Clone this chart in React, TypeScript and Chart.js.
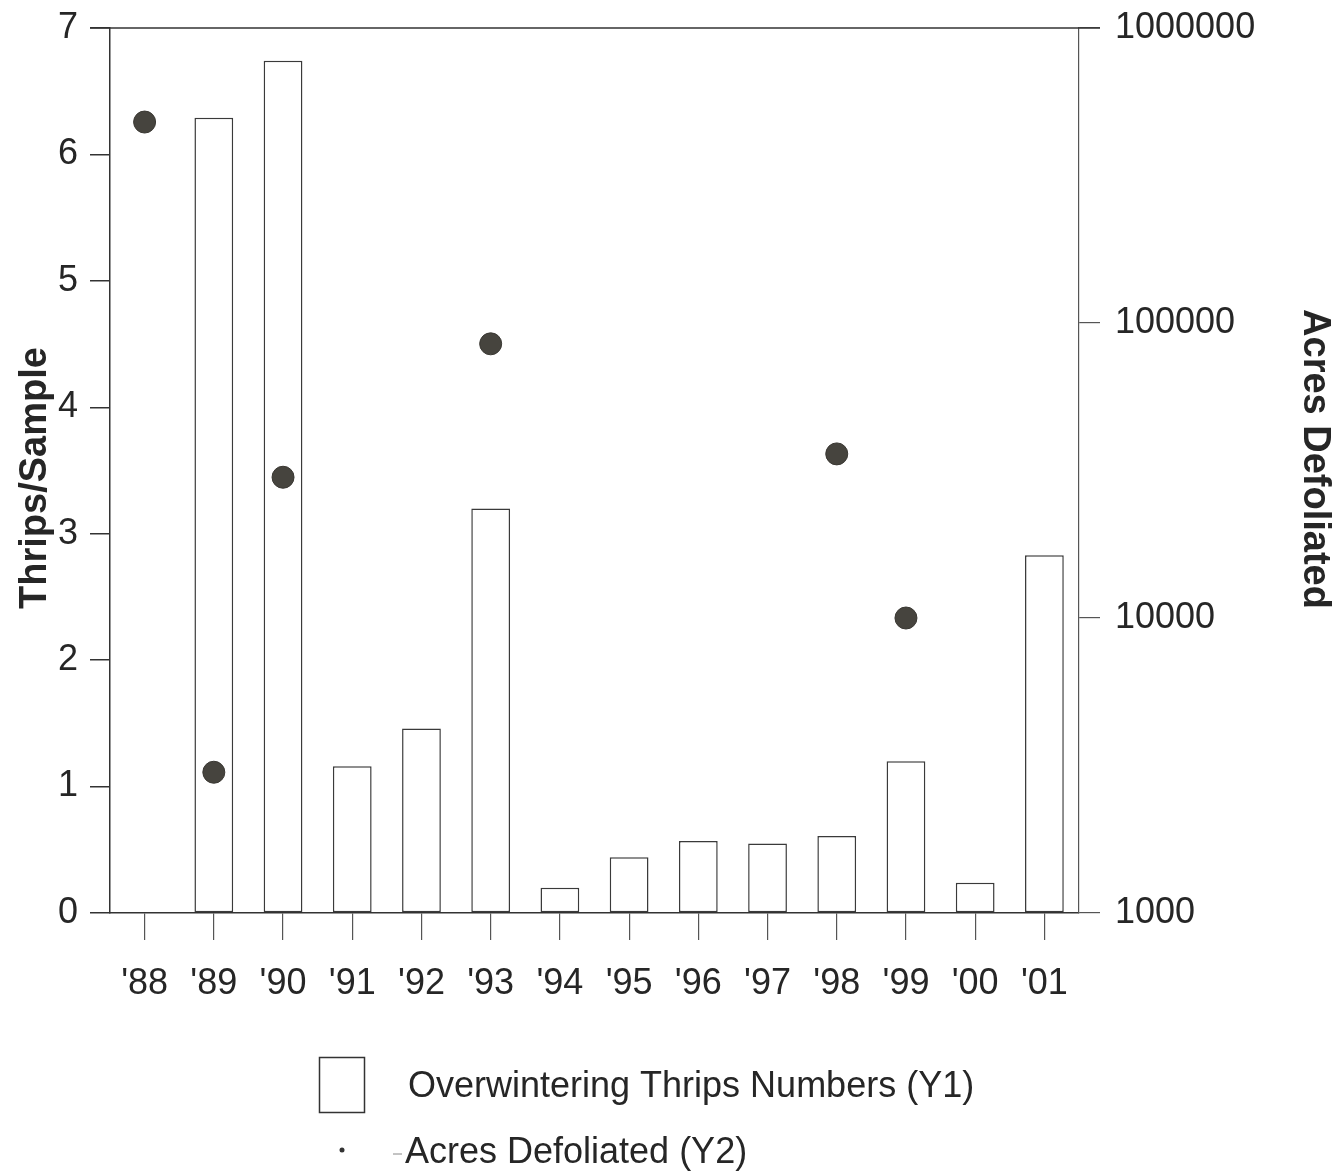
import React, { useEffect, useRef } from "react";
import { Chart, registerables } from "chart.js";

Chart.register(...registerables);

const YEARS = ["'88", "'89", "'90", "'91", "'92", "'93", "'94", "'95", "'96", "'97", "'98", "'99", "'00", "'01"];
const THRIPS_PER_SAMPLE = [null, 6.29, 6.74, 1.16, 1.46, 3.2, 0.2, 0.44, 0.57, 0.55, 0.61, 1.2, 0.24, 2.83];
const ACRES_DEFOLIATED = [480000, 3000, 30000, null, null, 85000, null, null, null, null, 36000, 10000, null, null];
const Y2_TICKS = [1000, 10000, 100000, 1000000];
const Y1_TITLE = "Thrips/Sample";
const Y2_TITLE = "Acres Defoliated";
const LEGEND_BARS = "Overwintering Thrips Numbers (Y1)";
const LEGEND_POINTS = "Acres Defoliated (Y2)";

const FONT = "'Liberation Sans', Arial, sans-serif";
const INK = "#262626";

const decorPlugin = {
  id: "decor",
  afterDraw(chart: any) {
    const ctx = chart.ctx as CanvasRenderingContext2D;
    const { left, right, top } = chart.chartArea;
    ctx.save();
    // top frame line
    ctx.strokeStyle = "#333";
    ctx.lineWidth = 1.5;
    ctx.beginPath();
    ctx.moveTo(left - 20, top);
    ctx.lineTo(right + 21, top);
    ctx.stroke();

    // axis titles
    ctx.fillStyle = INK;
    ctx.font = `bold 38px ${FONT}`;
    ctx.textAlign = "center";
    ctx.textBaseline = "middle";
    ctx.save();
    ctx.translate(36, 478);
    ctx.rotate(-Math.PI / 2);
    ctx.fillText(Y1_TITLE, 0, 0);
    ctx.restore();
    ctx.save();
    ctx.translate(1314, 459);
    ctx.rotate(Math.PI / 2);
    ctx.fillText(Y2_TITLE, 0, 0);
    ctx.restore();

    // legend
    ctx.strokeStyle = "#333";
    ctx.lineWidth = 1.5;
    ctx.strokeRect(319.5, 1057.5, 45, 55);
    ctx.font = `36px ${FONT}`;
    ctx.textAlign = "left";
    ctx.fillStyle = INK;
    ctx.fillText(LEGEND_BARS, 408, 1087);
    ctx.fillText(LEGEND_POINTS, 405, 1153);
    ctx.fillStyle = "#333";
    ctx.beginPath();
    ctx.arc(342, 1150, 2.5, 0, Math.PI * 2);
    ctx.fill();
    ctx.strokeStyle = "#888";
    ctx.lineWidth = 1;
    ctx.beginPath();
    ctx.moveTo(393, 1154);
    ctx.lineTo(402, 1154);
    ctx.stroke();
    ctx.restore();
  },
};

export default function App() {
  const ref = useRef<HTMLCanvasElement | null>(null);

  useEffect(() => {
    if (!ref.current) return;
    const chart = new Chart(ref.current, {
      type: "bar",
      data: {
        labels: YEARS,
        datasets: [
          {
            type: "line",
            label: LEGEND_POINTS,
            data: ACRES_DEFOLIATED as any,
            yAxisID: "y2",
            showLine: false,
            pointRadius: 11,
            pointBackgroundColor: "#46443e",
            pointBorderColor: "#3a3833",
            pointBorderWidth: 1,
            order: 0,
          } as any,
          {
            type: "bar",
            label: LEGEND_BARS,
            data: THRIPS_PER_SAMPLE as any,
            yAxisID: "y",
            backgroundColor: "#ffffff",
            borderColor: "#3a3a3a",
            borderWidth: 1.5,
            borderSkipped: false,
            barPercentage: 1,
            categoryPercentage: 0.56,
            order: 1,
          } as any,
        ],
      },
      options: {
        responsive: false,
        animation: false,
        layout: { padding: { top: 28, left: 0, right: 0, bottom: 0 } },
        plugins: { legend: { display: false }, tooltip: { enabled: false } },
        scales: {
          x: {
            offset: true,
            grid: {
              display: true,
              offset: false,
              drawOnChartArea: false,
              drawTicks: true,
              tickLength: 27,
              color: "#555",
              lineWidth: 1.2,
            },
            border: { display: true, color: "#333", width: 1.5 },
            ticks: {
              autoSkip: false,
              maxRotation: 0,
              padding: 22,
              color: INK,
              font: { family: FONT, size: 36 },
            },
            afterFit: (s: any) => {
              s.height = 263;
              s.paddingLeft = 0;
              s.paddingRight = 0;
            },
          },
          y: {
            position: "left",
            min: 0,
            max: 7,
            ticks: {
              stepSize: 1,
              padding: 12,
              color: INK,
              font: { family: FONT, size: 36 },
            },
            grid: {
              drawOnChartArea: false,
              drawTicks: true,
              tickLength: 20,
              color: "#333",
              lineWidth: 1.5,
            },
            border: { display: true, color: "#333", width: 1.5 },
            afterFit: (s: any) => {
              s.width = 110;
              s.paddingTop = 0;
              s.paddingBottom = 0;
            },
          },
          y2: {
            type: "logarithmic",
            position: "right",
            min: 1000,
            max: 1000000,
            afterBuildTicks: (s: any) => {
              s.ticks = Y2_TICKS.map((v) => ({ value: v }));
            },
            ticks: {
              padding: 15,
              color: INK,
              font: { family: FONT, size: 36 },
              callback: (v: any) => String(v),
            },
            grid: {
              drawOnChartArea: false,
              drawTicks: true,
              tickLength: 21,
              color: "#555",
              lineWidth: 1.2,
            },
            border: { display: true, color: "#555", width: 1.2 },
            afterFit: (s: any) => {
              s.width = 255;
              s.paddingTop = 0;
              s.paddingBottom = 0;
            },
          },
        },
      },
      plugins: [decorPlugin],
    });
    return () => chart.destroy();
  }, []);

  return (
    <div style={{ position: "absolute", left: 0, top: 0, width: 1334, height: 1176, background: "#fff" }}>
      <canvas ref={ref} width={1334} height={1176} style={{ display: "block" }} />
    </div>
  );
}
